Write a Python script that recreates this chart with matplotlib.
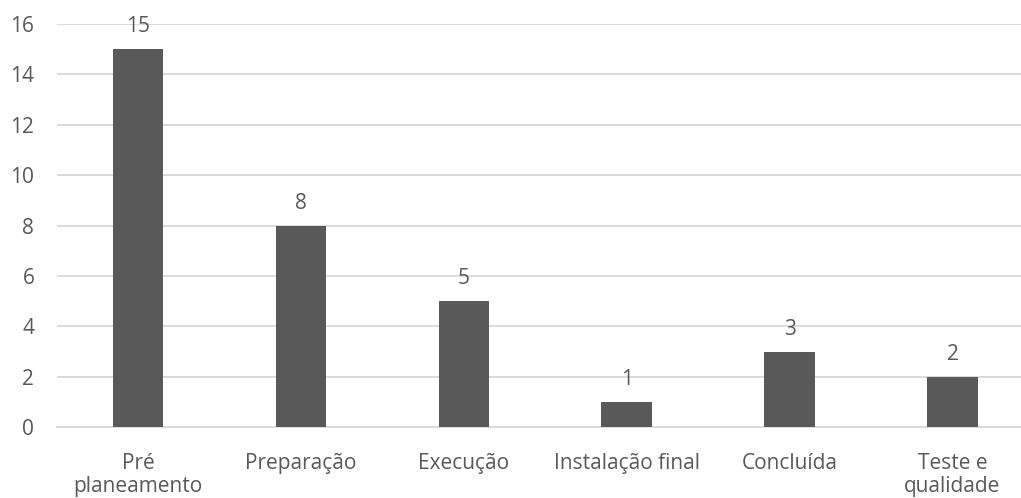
import numpy as np
import matplotlib.pyplot as plt

# data
categorias = ["Pré\nplaneamento", "Preparação", "Execução", "Instalação final", "Concluída", "Teste e\nqualidade"]
valores = [15, 8, 5, 1, 3, 2]

cor_texto = "#595959"
cor_barra = "#595959"
cor_grelha = "#d9d9d9"
tam = 15

plt.rcParams['font.family'] = ['Open Sans', 'DejaVu Sans']

fig = plt.figure(figsize=(10.21, 4.98), dpi=100)
# the chart is cropped on the right in the original, so the axes run past the edge
ax = fig.add_axes([56.5 / 1021, 70.7 / 498, 977.5 / 1021, 403.3 / 498])

x = np.arange(len(categorias))
barras = ax.bar(x, valores, width=0.31, color=cor_barra, zorder=3)

for xi, v in zip(x, valores):
    ax.annotate(str(v), (xi, v), xytext=(0, 18), textcoords="offset points",
                ha="center", va="center_baseline", fontsize=tam, color=cor_texto)

ax.set_xlim(-0.5, len(categorias) - 0.5)
ax.set_ylim(0, 16)
ax.set_yticks(range(0, 17, 2))
ax.set_xticks(x)
ax.set_xticklabels(categorias, linespacing=1.15)

ax.yaxis.grid(True, color=cor_grelha, linewidth=1.3, zorder=0)
ax.set_axisbelow(True)
for lado in ["top", "right", "left"]:
    ax.spines[lado].set_visible(False)
ax.spines["bottom"].set_color(cor_grelha)
ax.spines["bottom"].set_linewidth(1.3)

ax.tick_params(axis="both", length=0, labelsize=tam, labelcolor=cor_texto)
ax.tick_params(axis="y", pad=16)
ax.tick_params(axis="x", pad=18.5)

fig.savefig("out.png", dpi=100)
